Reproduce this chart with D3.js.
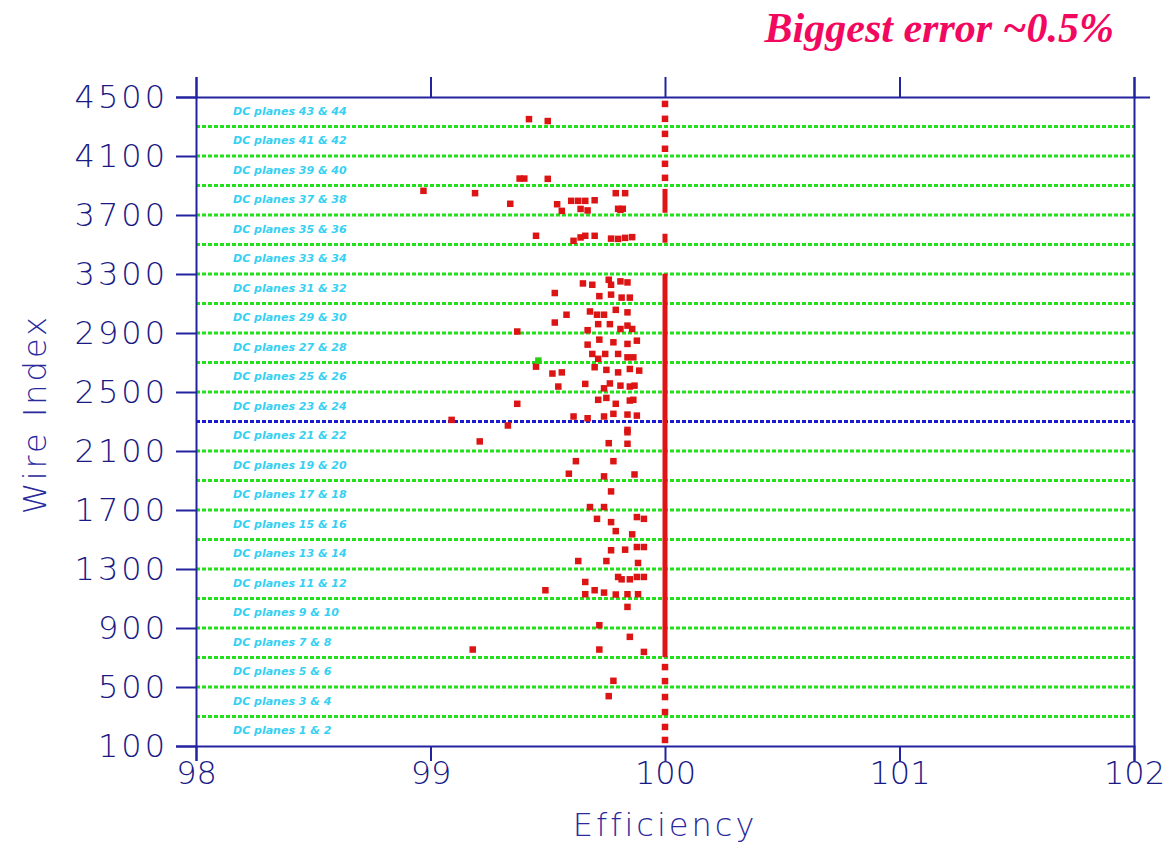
<!DOCTYPE html>
<html>
<head>
<meta charset="utf-8">
<script src="https://cdn.jsdelivr.net/npm/d3@7"></script>
<style>
  body { margin: 0; background: #fff; }
  svg { display: block; }
</style>
</head>
<body>
<svg id="chart"></svg>
<script>
// axis ticks
const xTicks = [98, 99, 100, 101, 102];
const yTicks = [100, 500, 900, 1300, 1700, 2100, 2500, 2900, 3300, 3700, 4100, 4500];

// plane pairs, one band of 200 wires each, bottom to top
const planeLabels = [
  "DC planes 1 & 2", "DC planes 3 & 4", "DC planes 5 & 6", "DC planes 7 & 8",
  "DC planes 9 & 10", "DC planes 11 & 12", "DC planes 13 & 14", "DC planes 15 & 16",
  "DC planes 17 & 18", "DC planes 19 & 20", "DC planes 21 & 22", "DC planes 23 & 24",
  "DC planes 25 & 26", "DC planes 27 & 28", "DC planes 29 & 30", "DC planes 31 & 32",
  "DC planes 33 & 34", "DC planes 35 & 36", "DC planes 37 & 38", "DC planes 39 & 40",
  "DC planes 41 & 42", "DC planes 43 & 44"
];
const bandStarts = [100, 300, 500, 700, 900, 1100, 1300, 1500, 1700, 1900, 2100,
  2300, 2500, 2700, 2900, 3100, 3300, 3500, 3700, 3900, 4100, 4300];
const bandWidth = 200;
const blueBoundary = 2300;

// wires below 100% efficiency: [efficiency, wire index]
const lowWires = [
  [99.42, 4350], [99.50, 4337],
  [99.38, 3947], [99.40, 3947], [99.50, 3945],
  [98.97, 3864], [99.19, 3848],
  [99.34, 3776], [99.54, 3773], [99.56, 3728],
  [99.60, 3796], [99.63, 3796], [99.66, 3796], [99.70, 3800],
  [99.64, 3741], [99.67, 3731],
  [99.79, 3848], [99.83, 3848],
  [99.80, 3742], [99.81, 3735], [99.82, 3742],
  [99.45, 3559],
  [99.61, 3525], [99.64, 3548], [99.66, 3559], [99.70, 3559],
  [99.77, 3540], [99.80, 3538], [99.83, 3545], [99.86, 3550],
  [99.65, 3236], [99.69, 3227], [99.76, 3261], [99.77, 3227], [99.81, 3250], [99.84, 3243],
  [99.53, 3171], [99.72, 3150], [99.77, 3160], [99.815, 3140], [99.85, 3140],
  [99.58, 3024], [99.68, 3046], [99.71, 3024], [99.74, 3024], [99.79, 3057], [99.84, 3040],
  [99.53, 2971], [99.715, 2960], [99.765, 2960], [99.67, 2919], [99.81, 2927], [99.84, 2950], [99.86, 2927],
  [99.37, 2910],
  [99.72, 2855], [99.78, 2837], [99.84, 2826], [99.88, 2848], [99.67, 2821],
  [99.69, 2758], [99.745, 2758], [99.715, 2725], [99.80, 2758], [99.84, 2735], [99.865, 2735],
  [99.45, 2672], [99.70, 2668], [99.75, 2650], [99.80, 2633], [99.85, 2656], [99.89, 2645],
  [99.52, 2625], [99.56, 2633],
  [99.545, 2537], [99.66, 2555], [99.74, 2525], [99.765, 2558], [99.81, 2543], [99.85, 2537], [99.87, 2543],
  [99.37, 2420], [99.715, 2447], [99.75, 2460], [99.79, 2420], [99.85, 2442], [99.865, 2447],
  [99.61, 2334], [99.67, 2322], [99.74, 2334], [99.78, 2352], [99.84, 2347], [99.88, 2340],
  [99.09, 2311], [99.33, 2273], [99.84, 2243], [99.21, 2165],
  [99.76, 2153], [99.84, 2149], [99.84, 2227],
  [99.62, 2031], [99.78, 2031], [99.59, 1946], [99.74, 1928], [99.87, 1941],
  [99.77, 1826], [99.68, 1720], [99.74, 1720], [99.71, 1640], [99.77, 1618], [99.88, 1652], [99.91, 1640],
  [99.79, 1557], [99.86, 1535], [99.77, 1427], [99.83, 1431], [99.88, 1449], [99.91, 1449],
  [99.63, 1354], [99.75, 1354], [99.885, 1341],
  [99.80, 1246], [99.815, 1230], [99.85, 1230], [99.88, 1246], [99.91, 1246],
  [99.66, 1212], [99.49, 1156], [99.70, 1156], [99.74, 1140],
  [99.66, 1129], [99.79, 1127], [99.84, 1129], [99.885, 1129],
  [99.84, 1043], [99.72, 919], [99.85, 840], [99.18, 754], [99.72, 754], [99.91, 738],
  [99.78, 542], [99.76, 438]
];
// one odd point drawn in green
const greenWires = [[99.46, 2713]];

// wires at 100%: single ones and runs of neighbouring wires
const fullWires = [4453, 4352, 4250, 4149, 4047, 3952, 635, 540, 432, 330, 229, 141];
const fullRuns = [[3715, 3877], [3512, 3573], [702, 3302]];

class WireChart {
  constructor(_config) {
    this.parentElement = _config.parentElement;
    this.width = 1172;
    this.height = 848;
    this.margin = { left: 196, right: 38, top: 97, bottom: 102 };
    this.axisColor = "#2323a0";
    this.textColor = "#1a1a86";
    this.initSvg();
  }

  initSvg() {
    this.svg = d3
      .select(this.parentElement)
      .attr("width", this.width)
      .attr("height", this.height);

    this.innerW = this.width - this.margin.left - this.margin.right;
    this.innerH = this.height - this.margin.top - this.margin.bottom;

    this.x = d3.scaleLinear().domain([98, 102]).range([0, this.innerW]);
    this.y = d3.scaleLinear().domain([100, 4500]).range([this.innerH, 0]);

    this.g = this.svg
      .append("g")
      .attr("transform", `translate(${this.margin.left},${this.margin.top})`);

    this.addBands();
    this.addPoints();
    this.addAxes();
    this.addTitles();
  }

  // green separators between plane pairs, and the labels
  addBands() {
    const bounds = bandStarts.slice(1);
    this.g
      .selectAll(".sep")
      .data(bounds)
      .join("line")
      .attr("class", "sep")
      .attr("x1", 0)
      .attr("x2", this.innerW)
      .attr("y1", (d) => this.y(d))
      .attr("y2", (d) => this.y(d))
      .attr("stroke", (d) => (d === blueBoundary ? "#1a1ad0" : "#22e01a"))
      .attr("stroke-width", 3)
      .attr("stroke-dasharray", "4,2");

    this.g
      .selectAll(".plane")
      .data(planeLabels)
      .join("text")
      .attr("class", "plane")
      .attr("x", 37)
      .attr("y", (d, i) => this.y(bandStarts[i] + bandWidth / 2))
      .attr("dominant-baseline", "middle")
      .attr("fill", "#36d0f2")
      .attr("font-family", "DejaVu Sans")
      .attr("font-size", 11)
      .attr("font-weight", "bold")
      .attr("font-style", "italic")
      .text((d) => d);
  }

  addPoints() {
    const s = 6.5;
    this.g
      .selectAll(".run")
      .data(fullRuns)
      .join("rect")
      .attr("class", "run")
      .attr("x", this.x(100) - 2.5)
      .attr("y", (d) => this.y(d[1]))
      .attr("width", 5)
      .attr("height", (d) => this.y(d[0]) - this.y(d[1]))
      .attr("fill", "#e01414");

    this.g
      .selectAll(".full")
      .data(fullWires)
      .join("rect")
      .attr("class", "full")
      .attr("x", this.x(100) - s / 2)
      .attr("y", (d) => this.y(d) - s / 2)
      .attr("width", s)
      .attr("height", s)
      .attr("fill", "#e01414");

    this.g
      .selectAll(".low")
      .data(lowWires)
      .join("rect")
      .attr("class", "low")
      .attr("x", (d) => this.x(d[0]) - s / 2)
      .attr("y", (d) => this.y(d[1]) - s / 2)
      .attr("width", s)
      .attr("height", s)
      .attr("fill", "#dc1414");

    this.g
      .selectAll(".green")
      .data(greenWires)
      .join("rect")
      .attr("class", "green")
      .attr("x", (d) => this.x(d[0]) - s / 2)
      .attr("y", (d) => this.y(d[1]) - s / 2)
      .attr("width", s)
      .attr("height", s)
      .attr("fill", "#28d010");
  }

  addAxes() {
    const fmt = (d) => d;
    const left = this.g
      .append("g")
      .call(d3.axisLeft(this.y).tickValues(yTicks).tickSize(20).tickPadding(8).tickFormat(fmt));
    const bottom = this.g
      .append("g")
      .attr("transform", `translate(0,${this.innerH})`)
      .call(d3.axisBottom(this.x).tickValues(xTicks).tickSize(15).tickPadding(0).tickFormat(fmt));
    const top = this.g
      .append("g")
      .call(d3.axisTop(this.x).tickValues(xTicks).tickSize(20).tickFormat(""));
    const right = this.g
      .append("g")
      .attr("transform", `translate(${this.innerW},0)`)
      .call(d3.axisRight(this.y).tickValues([4500]).tickSize(16).tickSizeOuter(0).tickFormat(""));

    [left, bottom, top, right].forEach((a) => {
      a.select(".domain").attr("stroke", this.axisColor).attr("stroke-width", 2);
      a.selectAll(".tick line").attr("stroke", this.axisColor).attr("stroke-width", 2);
      a.selectAll("text")
        .attr("fill", this.textColor)
        .attr("font-family", "DejaVu Sans")
        .attr("font-weight", 200)
        .attr("font-size", 32);
    });
    left.selectAll("text").attr("letter-spacing", 3);
  }

  addTitles() {
    this.svg
      .append("text")
      .attr("x", this.margin.left + this.innerW / 2)
      .attr("y", 836)
      .attr("text-anchor", "middle")
      .attr("fill", "#2a2a9c")
      .attr("font-family", "DejaVu Sans")
      .attr("font-weight", 200)
      .attr("font-size", 32)
      .attr("letter-spacing", 3)
      .text("Efficiency");

    this.svg
      .append("text")
      .attr("transform", `translate(46,${this.margin.top + this.y(2350)}) rotate(-90)`)
      .attr("text-anchor", "middle")
      .attr("fill", "#2a2a9c")
      .attr("font-family", "DejaVu Sans")
      .attr("font-weight", 200)
      .attr("font-size", 32)
      .attr("letter-spacing", 3)
      .text("Wire  Index");

    this.svg
      .append("text")
      .attr("x", 1114)
      .attr("y", 42)
      .attr("text-anchor", "end")
      .attr("fill", "#f2085f")
      .attr("font-family", "Liberation Serif")
      .attr("font-weight", "bold")
      .attr("font-style", "italic")
      .attr("font-size", 42)
      .text("Biggest error ~0.5%");
  }
}

new WireChart({ parentElement: "#chart" });
</script>
</body>
</html>
